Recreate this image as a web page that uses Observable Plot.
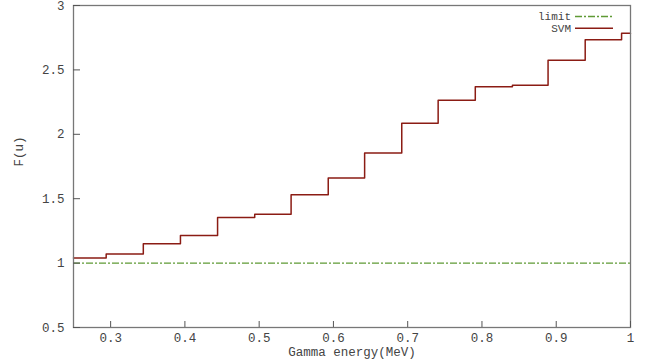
<!DOCTYPE html>
<html>
<head>
<meta charset="utf-8">
<script src="https://cdn.jsdelivr.net/npm/d3@7"></script>
<script src="https://cdn.jsdelivr.net/npm/@observablehq/plot@0.6"></script>
<style>
  body { margin: 0; background: #fff; }
  svg { display: block; }
</style>
</head>
<body>
<div id="chart"></div>
<script>
// Bin edges (MeV) of the SVM histogram; the last entry closes the final bin.
const binEdges = [0.25, 0.294, 0.344, 0.394, 0.444, 0.494, 0.543, 0.593, 0.642,
                  0.692, 0.741, 0.791, 0.841, 0.889, 0.939, 0.988, 1.0];
// F(u) for each bin
const svmValues = [1.04, 1.07, 1.15, 1.215, 1.355, 1.38, 1.53, 1.66, 1.855,
                   2.085, 2.265, 2.37, 2.38, 2.575, 2.735, 2.785];
// Reference level
const limitValues = [1];

const xTicks = [0.3, 0.4, 0.5, 0.6, 0.7, 0.8, 0.9, 1];
const yTicks = [0.5, 1, 1.5, 2, 2.5, 3];
const seriesNames = ["limit", "SVM"];
const seriesColors = ["#5f9a35", "#8b1c14"];
const limitDash = "7,2,2,2";

const xLabel = "Gamma energy(MeV)";
const yLabel = "F(u)";

// Step points: each edge carries the value of the bin that starts there.
const svmData = binEdges.map((x, i) => ({x, y: svmValues[Math.min(i, svmValues.length - 1)]}));

const W = 657, H = 364;
const margins = {top: 5, right: 27, bottom: 37, left: 73};
const font = "'Liberation Mono', 'DejaVu Sans Mono', monospace";

// Key in the upper-right corner of the frame
function key(index, scales, values, dims) {
  const d = dims || {width: W, marginRight: margins.right, marginTop: margins.top};
  const right = d.width - d.marginRight;
  const g = d3.create("svg:g").attr("font-family", font).attr("font-size", 11);
  seriesNames.forEach((name, i) => {
    const y = d.marginTop + 11.5 + i * 11.8;
    g.append("text")
      .attr("x", right - 59).attr("y", y).attr("dy", "0.35em")
      .attr("text-anchor", "end").attr("fill", "#444")
      .text(name);
    g.append("line")
      .attr("x1", right - 55).attr("x2", right - 17)
      .attr("y1", y).attr("y2", y)
      .attr("stroke", seriesColors[i])
      .attr("stroke-width", i === 0 ? 1.3 : 1.5)
      .attr("stroke-dasharray", i === 0 ? limitDash : null);
  });
  return g.node();
}

const chart = Plot.plot({
  width: W,
  height: H,
  marginTop: margins.top,
  marginRight: margins.right,
  marginBottom: margins.bottom,
  marginLeft: margins.left,
  style: {fontFamily: font, fontSize: "12.5px", color: "#444", background: "#fff"},
  x: {domain: [0.25, 1]},
  y: {domain: [0.5, 3]},
  marks: [
    Plot.ruleY(limitValues, {stroke: seriesColors[0], strokeWidth: 1.3, strokeDasharray: limitDash}),
    Plot.line(svmData, {x: "x", y: "y", curve: "step-after", stroke: seriesColors[1], strokeWidth: 1.5}),
    Plot.frame({stroke: "#777", strokeWidth: 1.3}),
    Plot.axisX({ticks: xTicks, tickSize: -6, tickPadding: 12, tickFormat: d => String(d),
                label: null, stroke: "#555", fill: "#444"}),
    Plot.axisY({ticks: yTicks, tickSize: -7, tickPadding: 16, tickFormat: d => String(d),
                label: null, stroke: "#555", fill: "#444"}),
    Plot.text([xLabel], {frameAnchor: "bottom", dy: 28, text: d => d, fill: "#444"}),
    Plot.text([yLabel], {frameAnchor: "left", dx: -55, rotate: -90, text: d => d, fill: "#444"}),
    key
  ]
});

document.getElementById("chart").appendChild(chart);
</script>
</body>
</html>
